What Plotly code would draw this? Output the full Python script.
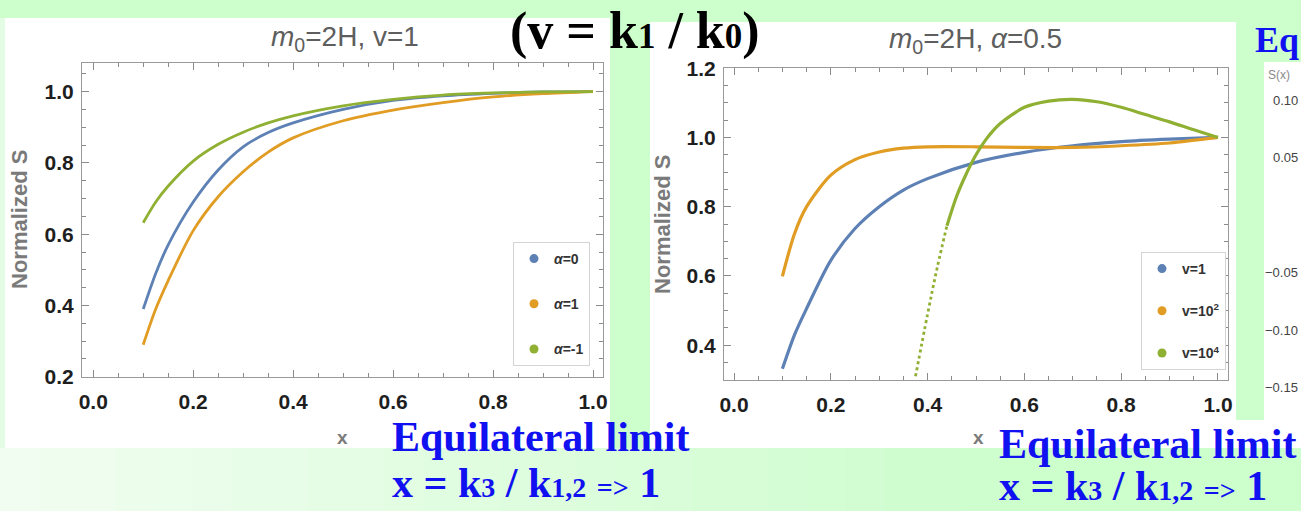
import plotly.graph_objects as go

W, H = 1301, 511

# ---------------- data ----------------
# Left panel: m0=2H, v=1
x_left = [0.1, 0.125, 0.15, 0.2, 0.25, 0.3, 0.35, 0.4, 0.5, 0.6, 0.7, 0.8, 0.9, 1.0]
s_alpha0 = [0.39, 0.49, 0.57, 0.69, 0.78, 0.845, 0.885, 0.912, 0.95, 0.975, 0.988, 0.995, 0.999, 1.0]
s_alpha1 = [0.29, 0.39, 0.47, 0.61, 0.705, 0.775, 0.83, 0.87, 0.918, 0.948, 0.969, 0.985, 0.994, 1.0]
s_alpham1 = [0.632, 0.69, 0.735, 0.805, 0.852, 0.886, 0.912, 0.932, 0.96, 0.978, 0.99, 0.996, 0.999, 1.0]
left_names = ["<i>α</i>=0", "<i>α</i>=1", "<i>α</i>=-1"]

# Right panel: m0=2H, alpha=0.5
x_right = [0.1, 0.125, 0.15, 0.2, 0.25, 0.3, 0.35, 0.4, 0.5, 0.6, 0.7, 0.8, 0.9, 1.0]
s_v1 = [0.332, 0.43, 0.506, 0.645, 0.737, 0.80, 0.848, 0.881, 0.928, 0.957, 0.976, 0.988, 0.995, 1.0]
s_v1e2 = [0.599, 0.722, 0.80, 0.891, 0.936, 0.958, 0.969, 0.973, 0.973, 0.971, 0.971, 0.976, 0.984, 1.0]
x_v1e4 = [0.375, 0.4, 0.42, 0.44, 0.46, 0.48, 0.5, 0.52, 0.55, 0.6, 0.65, 0.7, 0.75, 0.8, 0.85, 0.9, 0.95, 1.0]
s_v1e4 = [0.31, 0.49, 0.625, 0.745, 0.83, 0.895, 0.95, 0.993, 1.04, 1.087, 1.105, 1.110, 1.103, 1.087, 1.066, 1.045, 1.022, 1.0]
v1e4_dotted_until = 0.44
right_names = ["v=1", "v=10<sup>2</sup>", "v=10<sup>4</sup>"]

# partial third panel tick labels (cut by the slide edge)
third_ticks = ["0.10", "0.05", "\u22120.05", "\u22120.10", "\u22120.15"]
third_tick_vals = [0.10, 0.05, -0.05, -0.10, -0.15]

COLORS = ["#5e81b5", "#e19c24", "#8fb032"]

# ---------------- helpers ----------------
def px(x):
    return x / W

def py(y):
    return 1 - y / H

fig = go.Figure()

# left curves
for ys, col in zip([s_alpha0, s_alpha1, s_alpham1], COLORS):
    fig.add_trace(go.Scatter(x=x_left, y=ys, mode="lines", line=dict(color=col, width=2.8, shape="spline", smoothing=0.8),
                             showlegend=False, hoverinfo="skip", xaxis="x", yaxis="y"))
for i, (name, col) in enumerate(zip(left_names, COLORS)):
    fig.add_trace(go.Scatter(x=[None], y=[None], mode="markers", marker=dict(color=col, size=9),
                             name=name, legend="legend", legendgroup="l%d" % i, xaxis="x", yaxis="y"))

# right curves
for ys, col in zip([s_v1, s_v1e2], COLORS[:2]):
    fig.add_trace(go.Scatter(x=x_right, y=ys, mode="lines", line=dict(color=col, width=3.2, shape="spline", smoothing=0.8),
                             showlegend=False, hoverinfo="skip", xaxis="x2", yaxis="y2"))
xd = [x for x in x_v1e4 if x <= v1e4_dotted_until]
yd = [y for x, y in zip(x_v1e4, s_v1e4) if x <= v1e4_dotted_until]
xs = [x for x in x_v1e4 if x >= v1e4_dotted_until]
ys_ = [y for x, y in zip(x_v1e4, s_v1e4) if x >= v1e4_dotted_until]
fig.add_trace(go.Scatter(x=xd, y=yd, mode="lines", line=dict(color=COLORS[2], width=2.8, dash="dot", shape="spline"),
                         showlegend=False, hoverinfo="skip", xaxis="x2", yaxis="y2"))
fig.add_trace(go.Scatter(x=xs, y=ys_, mode="lines", line=dict(color=COLORS[2], width=3.2, shape="spline", smoothing=0.8),
                         showlegend=False, hoverinfo="skip", xaxis="x2", yaxis="y2"))
for i, (name, col) in enumerate(zip(right_names, COLORS)):
    fig.add_trace(go.Scatter(x=[None], y=[None], mode="markers", marker=dict(color=col, size=9),
                             name=name, legend="legend2", legendgroup="r%d" % i, xaxis="x2", yaxis="y2"))

tickfont = dict(family="Liberation Sans, Arial, sans-serif", size=21, color="#1e1e1e", weight="bold")
common = dict(showline=True, linecolor="#9a9a9a", linewidth=1, mirror="allticks", ticks="inside",
              ticklen=7, tickcolor="#8a8a8a", tickwidth=1, showgrid=False, zeroline=False,
              tickfont=tickfont, tickformat=".1f", automargin=False,
              minor=dict(ticks="inside", ticklen=4, tickcolor="#8a8a8a", dtick=0.05, showgrid=False))

legfont = dict(family="Liberation Sans, Arial, sans-serif", size=14, color="#333", weight="bold")
fig.update_layout(
    width=W, height=H, margin=dict(l=0, r=0, t=0, b=0, pad=0, autoexpand=False),
    paper_bgcolor="#ccffcc", plot_bgcolor="white",
    xaxis=dict(domain=[px(82), px(603)], range=[-0.0225, 1.02], dtick=0.2, tick0=0, anchor="y",
               ticklabelstandoff=6, **common),
    yaxis=dict(domain=[py(377), py(63)], range=[0.1995, 1.08], dtick=0.2, tick0=0, anchor="x",
               ticklabelstandoff=3, **common),
    xaxis2=dict(domain=[px(724), px(1228)], range=[-0.0207, 1.0207], dtick=0.2, tick0=0, anchor="y2",
                ticklabelstandoff=6, **common),
    yaxis2=dict(domain=[py(380), py(68)], range=[0.2995, 1.2005], dtick=0.2, tick0=0, anchor="x2",
                ticklabelstandoff=3, **common),
    legend=dict(x=px(513), y=py(242), xanchor="left", yanchor="top", bgcolor="white",
                bordercolor="#d4d4d4", borderwidth=1, tracegroupgap=24, itemwidth=30, font=legfont),
    legend2=dict(x=px(1141), y=py(252), xanchor="left", yanchor="top", bgcolor="white",
                 bordercolor="#d4d4d4", borderwidth=1, tracegroupgap=21, itemwidth=30, font=legfont),
)

# ---------------- slide background shapes ----------------
shapes = []
n = 26
for i in range(n):
    x0 = i * 1000 / n
    x1 = (i + 1) * 1000 / n + 1
    t = i / (n - 1)
    r = int(241 + (206 - 241) * t)
    g = int(253 + (254 - 253) * t)
    b = int(241 + (206 - 241) * t)
    shapes.append(dict(type="rect", xref="paper", yref="paper", x0=px(x0), x1=px(x1), y0=0, y1=py(448),
                       fillcolor="rgb(%d,%d,%d)" % (r, g, b), line=dict(width=0), layer="below"))
shapes.append(dict(type="rect", xref="paper", yref="paper", x0=0, x1=px(5), y0=py(448), y1=py(18),
                   fillcolor="#e4fce4", line=dict(width=0), layer="below"))
white_boxes = [(5, 610, 18, 448), (650, 1236, 22, 448), (1236, 1301, 420, 448), (1264, 1301, 62, 448)]
for x0, x1, y0, y1 in white_boxes:
    shapes.append(dict(type="rect", xref="paper", yref="paper", x0=px(x0), x1=px(x1), y0=py(y1), y1=py(y0),
                       fillcolor="white", line=dict(width=0), layer="below"))
fig.update_layout(shapes=shapes)

# ---------------- text ----------------
gray = "#5e5e5e"
sans = "Liberation Sans, Arial, sans-serif"
serif = "Liberation Serif, Times New Roman, serif"
ann = []
def A(text, x, y, size, color, family, xanchor="center", yanchor="middle", weight="normal", angle=0):
    ann.append(dict(text=text, x=px(x), y=py(y), xref="paper", yref="paper", showarrow=False,
                    xanchor=xanchor, yanchor=yanchor, textangle=angle,
                    font=dict(size=size, color=color, family=family, weight=weight)))

A("<i>m</i><sub>0</sub>=2H, v=1", 345, 38, 28, gray, sans)
A("<i>m</i><sub>0</sub>=2H, <i>α</i>=0.5", 975, 40, 28, gray, sans)
A("Normalized S", 19, 220, 22, "#7a7a7a", sans, weight="bold", angle=-90)
A("Normalized S", 663, 225, 22, "#7a7a7a", sans, weight="bold", angle=-90)
A("x", 343, 437, 19, "#7a7a7a", sans, weight="bold")
A("x", 978, 437, 19, "#7a7a7a", sans, weight="bold")

A("<b>(v = k<span style='font-size:35px'>1</span> / k<span style='font-size:35px'>0</span>)</b>",
  635, 31, 52, "black", serif)

blue = "#1010f0"
for x0, y1, y2b in [(390, 437, 508), (997, 444, 511)]:
    A("<b>Equilateral limit</b>", x0, y1, 42, blue, serif, xanchor="left")
    A("<b>x = k<span style='font-size:28px'>3</span> / k<span style='font-size:28px'>1,2</span>"
      " <span style='font-size:28px'>=&gt;</span> 1</b>", x0, y2b, 42, blue, serif,
      xanchor="left", yanchor="bottom")
A("<b>Eq</b>", 1301, 40, 36, blue, serif, xanchor="right")

# partial third panel
A("S(x)", 1266, 75, 12, "#8a8a8a", sans, xanchor="left")
for lab, v in zip(third_ticks, third_tick_vals):
    ypos = 215 - v / 0.05 * 57.5
    A(lab, 1300, ypos, 13, "#444", sans, xanchor="right")

fig.update_layout(annotations=ann)
fig.write_html("out.html", post_script="document.body.style.margin='0';"
               "document.body.style.overflow='hidden';document.documentElement.style.overflow='hidden';")
